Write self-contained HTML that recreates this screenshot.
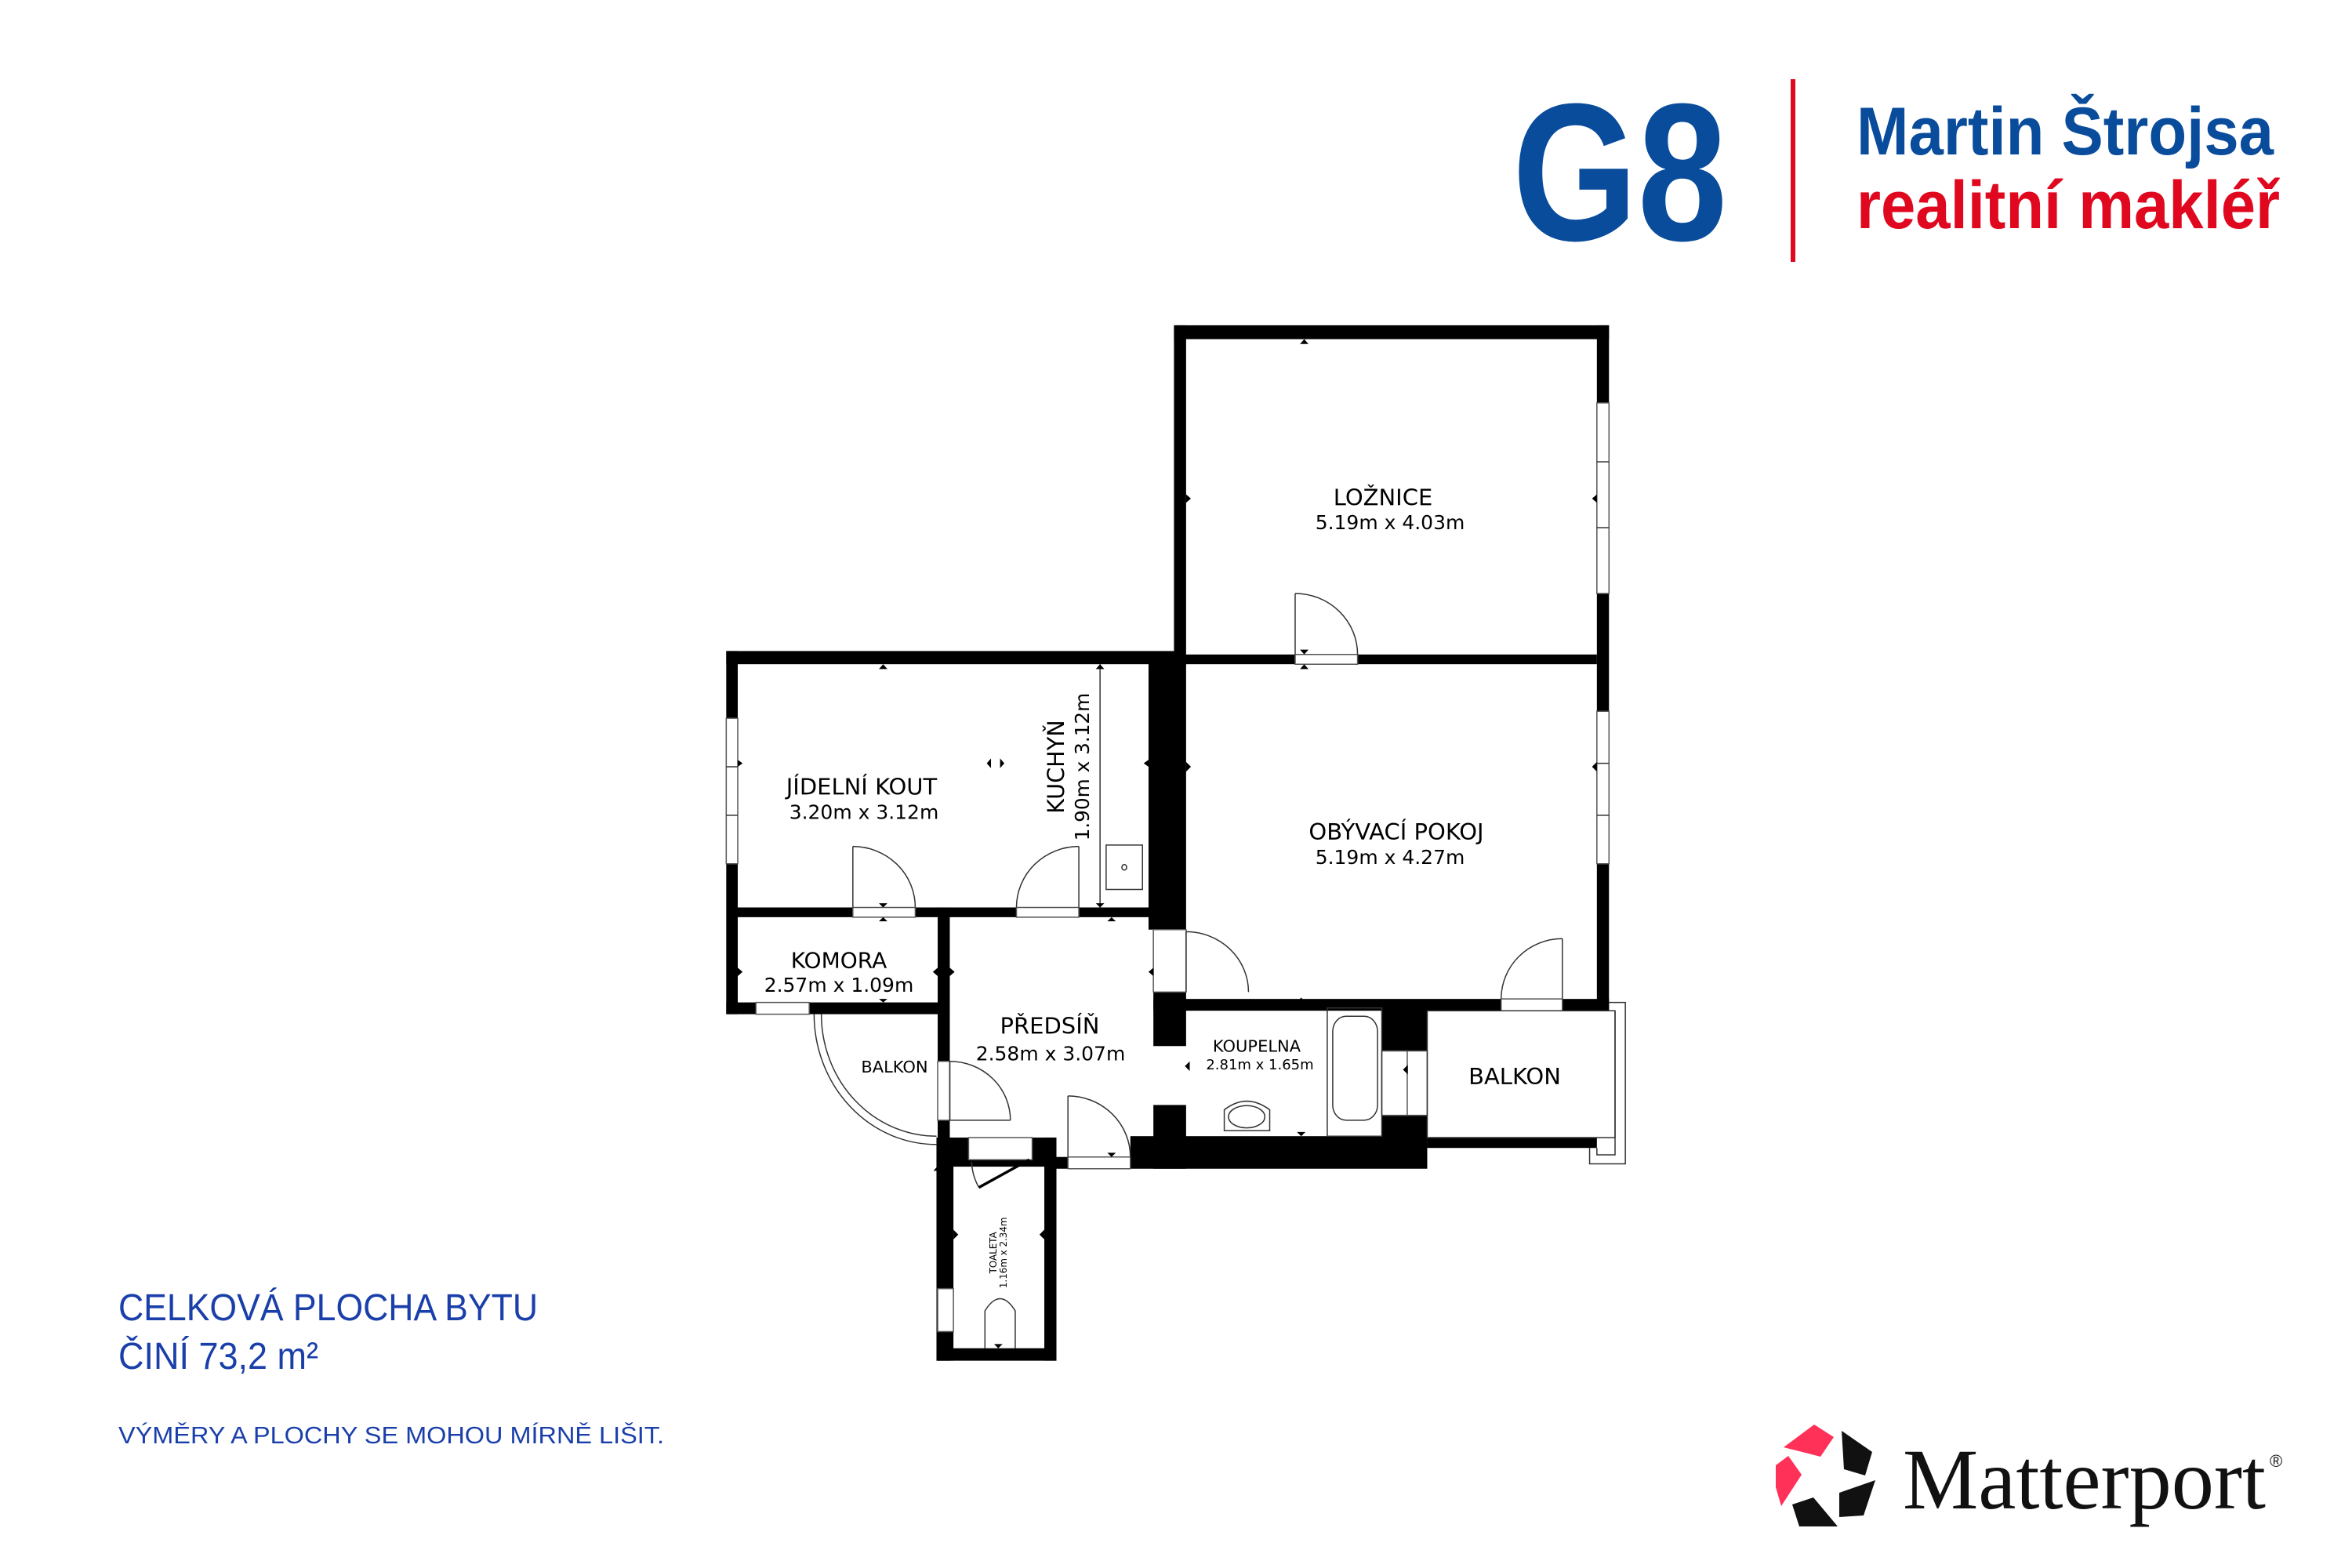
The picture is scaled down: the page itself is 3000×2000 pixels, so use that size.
<!DOCTYPE html>
<html><head><meta charset="utf-8"><style>
html,body{margin:0;padding:0;background:#fff}
svg{display:block}
</style></head><body>
<svg width="3000" height="2000" viewBox="0 0 3000 2000" xmlns="http://www.w3.org/2000/svg">
<rect width="3000" height="2000" fill="#fff"/>
<!-- Logo -->
<g transform="translate(-36,0)">
<text x="1965" y="306" font-family="Liberation Sans, sans-serif" font-weight="bold" font-size="250" fill="#0a4c9c" textLength="274" lengthAdjust="spacingAndGlyphs">G8</text>
<rect x="2320" y="101" width="6" height="233" fill="#e0081f"/>
<text x="2404" y="197" font-family="Liberation Sans, sans-serif" font-weight="bold" font-size="86" fill="#0a4c9c" textLength="532" lengthAdjust="spacingAndGlyphs">Martin Štrojsa</text>
<text x="2404" y="291" font-family="Liberation Sans, sans-serif" font-weight="bold" font-size="86" fill="#e0081f" textLength="540" lengthAdjust="spacingAndGlyphs">realitní makléř</text>
</g>

<!-- Bottom left text -->
<g transform="translate(0,-25)">
<text x="151" y="1709" font-family="Liberation Sans, sans-serif" font-size="48" fill="#1a3faa" textLength="535" lengthAdjust="spacingAndGlyphs">CELKOVÁ PLOCHA BYTU</text>
<text x="151" y="1771" font-family="Liberation Sans, sans-serif" font-size="48" fill="#1a3faa" textLength="255" lengthAdjust="spacingAndGlyphs">ČINÍ 73,2 m²</text>
<text x="151" y="1866" font-family="Liberation Sans, sans-serif" font-size="31" fill="#1a3faa" textLength="696" lengthAdjust="spacingAndGlyphs">VÝMĚRY A PLOCHY SE MOHOU MÍRNĚ LIŠIT.</text>
</g>

<!-- Matterport -->
<g transform="translate(-39,-22)">
<polygon points="2314,1868 2353,1839 2378,1855 2361,1880" fill="#ff3158"/>
<polygon points="2320,1879 2337,1903 2311,1943 2304,1919 2304,1891" fill="#ff3158"/>
<polygon points="2388,1847 2427,1874 2418,1904 2391,1896" fill="#111"/>
<polygon points="2385,1926 2431,1910 2416,1955 2385,1957" fill="#111"/>
<polygon points="2325,1941 2352,1932 2383,1969 2334,1969" fill="#111"/>
<text x="2466" y="1946" font-family="Liberation Serif, serif" font-size="110" fill="#111" textLength="463" lengthAdjust="spacingAndGlyphs">Matterport</text>
<text x="2934" y="1893" font-family="Liberation Sans, sans-serif" font-size="22" fill="#111">®</text>
</g>

<!-- Floor plan -->
<g transform="matrix(0.7728,0,0,0.884,924,399)">
 <g fill="#000">
  <rect x="742" y="18" width="718" height="20"/>
  <rect x="742" y="18" width="20" height="489"/>
  <rect x="1440" y="18" width="20" height="989"/>
  <rect x="762" y="493" width="678" height="14"/>
  <rect x="708" y="990" width="752" height="17"/>
  <rect x="3" y="488" width="739" height="19"/>
  <rect x="3" y="488" width="19" height="524"/>
  <rect x="700" y="493" width="62" height="397"/>
  <rect x="22" y="858" width="686" height="14"/>
  <rect x="3" y="995" width="369" height="17"/>
  <rect x="352" y="858" width="20" height="654"/>
  <rect x="708" y="980" width="54" height="78"/>
  <rect x="708" y="1143" width="54" height="92"/>
  <rect x="350" y="1190" width="198" height="42"/>
  <rect x="528" y="1190" width="20" height="322"/>
  <rect x="350" y="1494" width="198" height="18"/>
  <rect x="350" y="1190" width="28" height="322"/>
  <rect x="548" y="1218" width="19" height="17"/>
  <rect x="670" y="1188" width="490" height="47"/>
  <rect x="1085" y="995" width="75" height="70"/>
  <rect x="1085" y="1158" width="75" height="32"/>
  <rect x="1160" y="1190" width="280" height="15"/>
 </g>
 <g fill="#fff" stroke="#555" stroke-width="1.5">
  <rect x="1440" y="130" width="20" height="275" vector-effect="non-scaling-stroke"/>
  <rect x="1440" y="575" width="20" height="220" vector-effect="non-scaling-stroke"/>
  <rect x="3" y="585" width="19" height="210" vector-effect="non-scaling-stroke"/>
  <rect x="52" y="995" width="88" height="17" vector-effect="non-scaling-stroke"/>
  <rect x="352" y="1408" width="26" height="62" vector-effect="non-scaling-stroke"/>
  <rect x="1085" y="1065" width="75" height="93" vector-effect="non-scaling-stroke"/>
  <rect x="942" y="493" width="103" height="14" vector-effect="non-scaling-stroke"/>
  <rect x="1282" y="990" width="101" height="17" vector-effect="non-scaling-stroke"/>
  <rect x="212" y="858" width="103" height="14" vector-effect="non-scaling-stroke"/>
  <rect x="482" y="858" width="103" height="14" vector-effect="non-scaling-stroke"/>
  <rect x="708" y="890" width="54" height="90" vector-effect="non-scaling-stroke"/>
  <rect x="352" y="1080" width="20" height="85" vector-effect="non-scaling-stroke"/>
  <rect x="403" y="1190" width="105" height="32" vector-effect="non-scaling-stroke"/>
  <rect x="567" y="1218" width="103" height="17" vector-effect="non-scaling-stroke"/>
  <rect x="1085" y="1065" width="42" height="93" vector-effect="non-scaling-stroke"/>
 </g>
 <g fill="none" stroke="#333" stroke-width="1.5">
  <line x1="1440" y1="215" x2="1460" y2="215" vector-effect="non-scaling-stroke"/>
  <line x1="1440" y1="310" x2="1460" y2="310" vector-effect="non-scaling-stroke"/>
  <line x1="1440" y1="650" x2="1460" y2="650" vector-effect="non-scaling-stroke"/>
  <line x1="1440" y1="725" x2="1460" y2="725" vector-effect="non-scaling-stroke"/>
  <line x1="3" y1="655" x2="22" y2="655" vector-effect="non-scaling-stroke"/>
  <line x1="3" y1="725" x2="22" y2="725" vector-effect="non-scaling-stroke"/>
  <path d="M942,405 L942,493 M942,405 A103,88 0 0 1 1045,493" vector-effect="non-scaling-stroke"/>
  <path d="M212,770 L212,858 M212,770 A103,88 0 0 1 315,858" vector-effect="non-scaling-stroke"/>
  <path d="M585,770 L585,858 M585,770 A103,88 0 0 0 482,858" vector-effect="non-scaling-stroke"/>
  <path d="M762,893 L762,980 M762,893 A103,87 0 0 1 865,980" vector-effect="non-scaling-stroke"/>
  <path d="M1383,903 L1383,990 M1383,903 A101,87 0 0 0 1282,990" vector-effect="non-scaling-stroke"/>
  <path d="M372,1080 L372,1165 L472,1165 M372,1080 A100,85 0 0 1 472,1165" vector-effect="non-scaling-stroke"/>
  <path d="M567,1130 L567,1218 M567,1130 A103,88 0 0 1 670,1218" vector-effect="non-scaling-stroke"/>
  <path d="M408,1225 A90,80 0 0 0 420,1262" vector-effect="non-scaling-stroke"/>
  <path d="M148,1012 A202,188 0 0 0 350,1200" vector-effect="non-scaling-stroke"/>
  <path d="M160,1012 A190,176 0 0 0 350,1188" vector-effect="non-scaling-stroke"/>
  <rect x="1160" y="1007" width="310" height="183" vector-effect="non-scaling-stroke"/>
  <path d="M1460,995 L1487,995 L1487,1228 L1428,1228 L1428,1205" vector-effect="non-scaling-stroke"/>
  <path d="M1470,1007 L1470,1215 L1440,1215 L1440,1205" vector-effect="non-scaling-stroke"/>
  <rect x="630" y="768" width="60" height="64" vector-effect="non-scaling-stroke"/>
  <line x1="620" y1="507" x2="620" y2="858" vector-effect="non-scaling-stroke"/>
  <rect x="995" y="1003" width="90" height="185" vector-effect="non-scaling-stroke"/>
  <rect x="1004" y="1015" width="74" height="150" rx="22" ry="22" vector-effect="non-scaling-stroke"/>
  <path d="M825,1180 L825,1150 Q862,1125 900,1150 L900,1180 Z" vector-effect="non-scaling-stroke"/>
  <ellipse cx="862" cy="1160" rx="30" ry="16" vector-effect="non-scaling-stroke"/>
  <path d="M430,1494 L430,1440 Q455,1405 480,1440 L480,1494" vector-effect="non-scaling-stroke"/>
 </g>
 <line x1="420" y1="1262" x2="503" y2="1222" stroke="#000" stroke-width="4"/>
 <circle cx="660" cy="800" r="4" fill="none" stroke="#333" stroke-width="1.5" vector-effect="non-scaling-stroke"/>
 <g fill="#000">
  <polygon points="950,45 957,38 964,45"/><polygon points="950,486 957,493 964,486"/><polygon points="950,514 957,507 964,514"/>
  <polygon points="762,262 770,268 762,274"/><polygon points="1440,262 1432,268 1440,274"/>
  <polygon points="762,648 770,655 762,662"/><polygon points="1440,648 1432,655 1440,662"/>
  <polygon points="255,514 262,507 269,514"/><polygon points="255,852 262,858 269,852"/><polygon points="255,878 262,872 269,878"/>
  <polygon points="613,514 620,507 627,514"/><polygon points="613,852 620,858 627,852"/>
  <polygon points="22,645 30,650 22,655"/><polygon points="700,645 692,650 700,655"/>
  <polygon points="440,643 433,650 440,657"/><polygon points="455,643 462,650 455,657"/>
  <polygon points="945,995 952,988 959,995"/><polygon points="945,1182 952,1188 959,1182"/>
  <polygon points="632,878 639,872 646,878"/><polygon points="632,1212 639,1218 646,1212"/>
  <polygon points="372,945 380,951 372,957"/><polygon points="352,945 344,951 352,957"/>
  <polygon points="708,945 700,951 708,957"/><polygon points="22,945 30,951 22,957"/>
  <polygon points="255,990 262,995 269,990"/><polygon points="768,1080 760,1087 768,1094"/>
  <polygon points="1128,1085 1120,1092 1128,1099"/>
  <polygon points="378,1323 386,1330 378,1337"/><polygon points="528,1323 520,1330 528,1337"/>
  <polygon points="345,1238 352,1231 359,1238"/><polygon points="445,1488 452,1494 459,1488"/>
 </g>
</g>

<g font-family="DejaVu Sans, sans-serif" fill="#000" text-anchor="middle" transform="matrix(1,0,0,0.99,-25,-4)">
 <text x="1789" y="655" font-size="29">LOŽNICE</text>
 <text x="1798" y="686" font-size="25">5.19m x 4.03m</text>
 <text x="1124" y="1028" font-size="29">JÍDELNÍ KOUT</text>
 <text x="1127" y="1059" font-size="25">3.20m x 3.12m</text>
 <text transform="translate(1382,992) rotate(-90)" font-size="29">KUCHYŇ</text>
 <text transform="translate(1414,992) rotate(-90)" font-size="25">1.90m x 3.12m</text>
 <text x="1806" y="1086" font-size="29">OBÝVACÍ POKOJ</text>
 <text x="1798" y="1117" font-size="25">5.19m x 4.27m</text>
 <text x="1095" y="1251" font-size="28">KOMORA</text>
 <text x="1095" y="1282" font-size="25">2.57m x 1.09m</text>
 <text x="1364" y="1336" font-size="29">PŘEDSÍŇ</text>
 <text x="1365" y="1370" font-size="25">2.58m x 3.07m</text>
 <text x="1166" y="1386" font-size="21">BALKON</text>
 <text x="1628" y="1359" font-size="21">KOUPELNA</text>
 <text x="1632" y="1382" font-size="18">2.81m x 1.65m</text>
 <text x="1957" y="1401" font-size="29">BALKON</text>
 <text transform="translate(1296,1618) rotate(-90)" font-size="12">TOALETA</text>
 <text transform="translate(1309,1618) rotate(-90)" font-size="12">1.16m x 2.34m</text>
</g>
</svg>
</body></html>
